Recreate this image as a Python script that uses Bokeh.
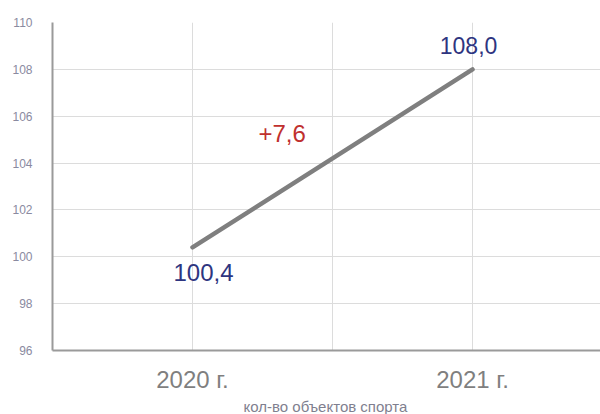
from bokeh.plotting import figure
from bokeh.models import FixedTicker, Label, Range1d, Title
from bokeh.core.properties import value
from bokeh.embed import file_html
from bokeh.resources import INLINE

years = ["2020 г.", "2021 г."]
counts = [100.4, 108.0]
count_labels = ["100,4", "108,0"]
delta_label = "+7,6"
y_ticks = [96, 98, 100, 102, 104, 106, 108, 110]
axis_title = "кол-во объектов спорта"

FONT = "Liberation Sans"
xs = [1 + 2 * i for i in range(len(years))]

p = figure(width=600, height=414, output_backend="svg", toolbar_location=None,
           x_range=Range1d(0, 3.914), y_range=Range1d(96, 110),
           min_border_left=52, min_border_right=0, min_border_top=22,
           min_border_bottom=63)
p.outline_line_color = None
p.background_fill_color = "white"
p.border_fill_color = "white"

# grids
p.xgrid.ticker = FixedTicker(ticks=[1, 2, 3])
p.ygrid.ticker = FixedTicker(ticks=y_ticks)
p.xgrid.grid_line_color = "#dcdcdc"
p.ygrid.grid_line_color = "#dcdcdc"
p.xgrid.grid_line_width = 1
p.ygrid.grid_line_width = 1

# y axis
p.yaxis.ticker = FixedTicker(ticks=y_ticks)
p.yaxis.major_label_text_font = FONT
p.yaxis.major_label_text_font_size = "12px"
p.yaxis.major_label_text_color = "#8a8aa0"
p.yaxis.major_tick_line_color = None
p.yaxis.minor_tick_line_color = None
p.yaxis.axis_line_color = "#9a9a9a"
p.yaxis.axis_line_width = 2
p.yaxis.major_label_standoff = 14

# x axis
p.xaxis.ticker = FixedTicker(ticks=xs)
p.xaxis.major_label_overrides = {x: y for x, y in zip(xs, years)}
p.xaxis.major_label_text_font = FONT
p.xaxis.major_label_text_font_size = "24px"
p.xaxis.major_label_text_color = "#7f7f7f"
p.xaxis.major_tick_line_color = None
p.xaxis.minor_tick_line_color = None
p.xaxis.axis_line_color = "#9a9a9a"
p.xaxis.axis_line_width = 2
p.xaxis.major_label_standoff = 9

# line
p.line(xs, counts, line_color="#7f7f7f", line_width=4.5, line_cap="round")

# value labels
p.text(x=[xs[0]], y=[counts[0]], text=[count_labels[0]], x_offset=11, y_offset=25,
       text_font=value(FONT), text_font_size="24px", text_color="#2e3580",
       text_align="center", text_baseline="middle")
p.text(x=[xs[1]], y=[counts[1]], text=[count_labels[1]], x_offset=-4, y_offset=-24,
       text_font=value(FONT), text_font_size="23px", text_color="#2e3580",
       text_align="center", text_baseline="middle")

p.add_layout(Label(x=1.64, y=105.28, text=delta_label, text_font=FONT,
                   text_font_size="24px", text_color="#c0302e",
                   text_align="center", text_baseline="middle"))

p.add_layout(Title(text=axis_title, align="left", offset=191, standoff=0,
                   text_font=FONT, text_font_size="15px", text_font_style="normal",
                   text_color="#7f7f8f"), "below")

open("out.html", "w").write(file_html(p, INLINE))
